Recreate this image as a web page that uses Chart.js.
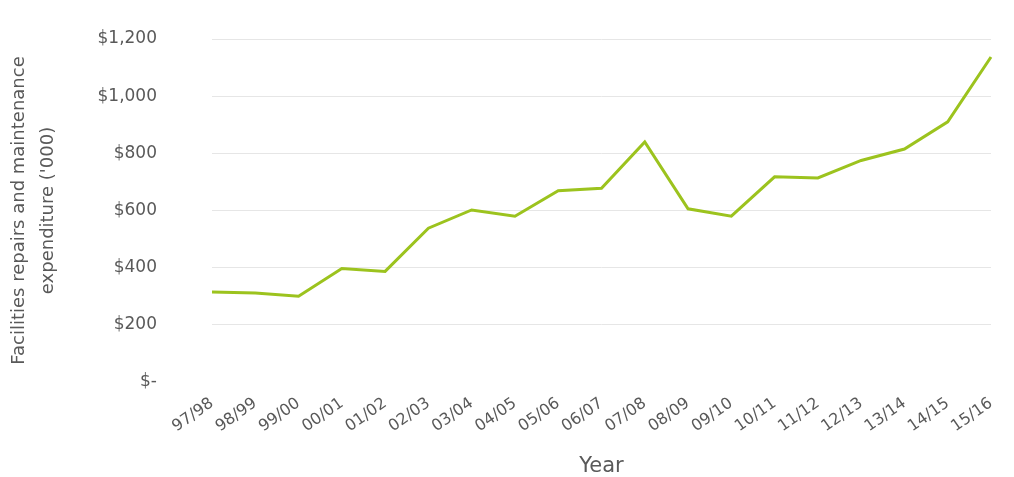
<!DOCTYPE html>
<html>
<head>
<meta charset="utf-8">
<script src="https://cdn.jsdelivr.net/npm/chart.js@4/dist/chart.umd.min.js"></script>
<style>
  html, body { margin: 0; padding: 0; background: #fff; }
  #wrap { width: 1014px; height: 477px; position: relative; }
</style>
</head>
<body>
<div id="wrap"><canvas id="repairsChart"></canvas></div>
<script>
// financial years and spend in $'000
const years = ['97/98', '98/99', '99/00', '00/01', '01/02', '02/03', '03/04', '04/05', '05/06', '06/07',
               '07/08', '08/09', '09/10', '10/11', '11/12', '12/13', '13/14', '14/15', '15/16'];
const spend = [315, 311, 300, 397, 387, 538, 602, 580, 669, 678,
               840, 606, 580, 718, 714, 775, 815, 910, 1137];
const yTicks = [0, 200, 400, 600, 800, 1000, 1200];

const textGrey = '#595959';
const fontFamily = '"DejaVu Sans", sans-serif';

const formatDollars = (value) => value === 0 ? '$-' : '$' + value.toLocaleString('en-US');

new Chart(document.getElementById('repairsChart'), {
    type: 'line',
    data: {
        labels: years,
        datasets: [{
            label: 'Facilities repairs and maintenance expenditure',
            data: spend,
            borderColor: '#9cc31e',
            borderWidth: 3,
            pointRadius: 0,
            tension: 0,
            fill: false
        }]
    },
    options: {
        responsive: true,
        maintainAspectRatio: false,
        animation: false,
        layout: { padding: { left: 4, right: 19, top: 39, bottom: 0 } },
        plugins: {
            legend: { display: false },
            tooltip: { enabled: false }
        },
        scales: {
            x: {
                offset: false,
                grid: { display: false, drawTicks: false },
                border: { display: false },
                ticks: {
                    color: textGrey,
                    font: { family: fontFamily, size: 16 },
                    minRotation: 35,
                    maxRotation: 35,
                    padding: 12,
                    autoSkip: false
                },
                title: {
                    display: true,
                    text: 'Year',
                    color: textGrey,
                    font: { family: fontFamily, size: 21, lineHeight: 1 },
                    padding: { top: 0, bottom: 0 }
                },
                afterFit: (scale) => { scale.height = 95; }
            },
            y: {
                min: 0,
                max: 1200,
                afterBuildTicks: (scale) => { scale.ticks = yTicks.map(v => ({ value: v })); },
                grid: {
                    drawTicks: false,
                    color: (ctx) => ctx.tick && ctx.tick.value === 0 ? 'rgba(0,0,0,0)' : '#e6e6e6',
                    lineWidth: 1
                },
                border: { display: false },
                ticks: {
                    color: textGrey,
                    font: { family: fontFamily, size: 17 },
                    padding: 55,
                    callback: (value) => formatDollars(value)
                },
                title: {
                    display: true,
                    text: ['Facilities repairs and maintenance', "expenditure ('000)"],
                    color: textGrey,
                    font: { family: fontFamily, size: 18, lineHeight: 1.65 },
                    padding: { top: 0, bottom: 0 }
                },
                afterFit: (scale) => {
                    scale.width = 208;
                    // the wide label gap should not push the plot down
                    scale.paddingTop = 0;
                    scale.paddingBottom = 0;
                }
            }
        }
    }
});
</script>
</body>
</html>
